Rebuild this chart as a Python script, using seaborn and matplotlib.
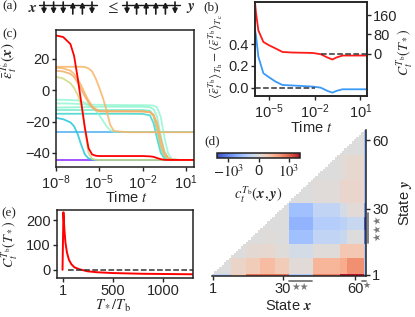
import numpy as np
import matplotlib
matplotlib.use("Agg")
import matplotlib.pyplot as plt
from matplotlib.colors import SymLogNorm
from matplotlib.ticker import NullLocator
import seaborn as sns

# ---------------- data ----------------
# (c) energy trajectories, log10(time) grid
logt_c = [-8, -7.5, -7, -6.75, -6.5, -6.25, -6, -5.75, -5.5, -5.25, -5, -4.75, -4.5,
          -4.25, -4, -3, -2, -1.5, -1.25, -1, -0.75, -0.5, -0.25, 0, 0.5, 1.6]
eps_purple = [-44.6] * 26
eps_lblue = [-26.6] * 26
eps_cyan = [-17.6, -18.5, -20.5, -23, -28, -35, -41, -43.5, -44.3, -44.5, -44.5, -44.5, -44.5,
            -44.5, -44.5, -44.5, -44.5, -44.5, -44.5, -44.5, -44.5, -44.5, -44.5, -44.5, -44.5, -44.5]
eps_teal = [-15, -15, -15, -15, -15, -15, -15, -15, -15, -15, -15, -15, -15,
            -15, -15, -15, -15.1, -16, -21, -31, -40, -43.5, -44.3, -44.5, -44.5, -44.5]
eps_aqua1 = [-12.6, -12.6, -12.6, -12.6, -12.6, -12.6, -12.6, -12.6, -12.6, -12.6, -12.6, -12.6, -12.6,
             -12.6, -12.6, -12.6, -12.6, -13, -16, -26, -37, -42.5, -44.2, -44.5, -44.5, -44.5]
eps_aqua2 = [-11, -11, -10.9, -10.9, -10.8, -10.8, -10.7, -10.7, -10.6, -10.6, -10.5, -10.5, -10.5,
             -10.5, -10.5, -10.5, -10.5, -10.8, -12, -17, -29, -39, -43.3, -44.3, -44.5, -44.5]
eps_aqua3 = [-8.4, -8.4, -8.5, -8.6, -8.7, -8.8, -9, -9.1, -9.2, -9.2, -9.3, -9.3, -9.4,
             -9.4, -9.4, -9.5, -9.5, -9.6, -9.8, -11, -17, -30, -40, -43.8, -44.5, -44.5]
eps_aqua4 = [-6, -6.1, -6.2, -6.4, -6.5, -7, -8, -9.5, -11, -13, -16, -19.5, -23,
             -25.5, -26.5, -26.7, -26.7, -26.7, -26.7, -26.7, -26.7, -26.7, -26.7, -26.7, -26.7, -26.7]
eps_khaki = [8.6, 7.5, 4.5, 1.5, -3, -9, -25, -40, -43.8, -44.4, -44.5, -44.5, -44.5,
             -44.5, -44.5, -44.5, -44.5, -44.5, -44.5, -44.5, -44.5, -44.5, -44.5, -44.5, -44.5, -44.5]
eps_orange1 = [15, 15, 15, 15, 15, 15, 14.8, 14, 12, 7.5, 1.5, -5, -13,
               -22, -26, -26.8, -26.8, -26.8, -26.8, -26.8, -26.8, -26.8, -26.8, -26.8, -26.8, -26.8]
eps_orange2 = [14.5, 14, 12.5, 10.5, 7, 3, -2, -6.5, -10, -12, -13, -13.3, -13.3,
               -13.3, -13.3, -13.3, -13.4, -14, -16.5, -24, -35, -41.5, -43.5, -44.2, -44.5, -44.5]
eps_orange3 = [12.5, 12, 10.5, 8.5, 5, 0.5, -4, -8, -11, -12.8, -13.5, -13.6, -13.6,
               -13.6, -13.6, -13.6, -13.6, -14, -15.5, -21, -31, -39.5, -43, -44.2, -44.5, -44.5]
eps_red = [35, 34, 29.5, 22, 8, -8, -24, -37, -41, -41.8, -42, -42, -42,
           -42, -42, -42, -42, -42.2, -42.5, -43.3, -44, -44.4, -44.5, -44.5, -44.5, -44.5]

# (b) gap between hot and cold averages, and specific heat
logt_b = [-5.92, -5.86, -5.7, -5.37, -5.0, -4.56, -4.12, -3.47, -2.14, -1.6, -1.16, -0.83, -0.57, -0.17, 0.5, 1.44]
gap_blue = [0.53, 0.486, 0.286, 0.133, 0.096, 0.055, 0.025, 0.02, 0.01, 0.0, -0.03, -0.046, -0.03, -0.015, -0.015, -0.015]
heat_red = [215, 174, 97, 48.5, 34.7, 21, 6.7, 4.2, 2.5, -2.9, -16.7, -25, -16.7, -8.4, -8.4, -8.4]

# (e) specific heat vs T*/Tb
tstar = [1, 10, 20, 30, 45, 65, 90, 120, 170, 250, 350, 500, 800, 1300]
heat_e = [0, 232, 160, 110, 70, 40, 22, 10, 2, -6, -10, -13, -16, -18]

# (d) pair correlations, block structure over 64 states
block_edges = [0, 1, 8, 14, 20, 26, 32, 42, 53, 56, 63, 64]
block_vals = [
    [-60, -60, 50, 700, 700, 700, -80, 500, 5000, 5000, -500],
    [0, 0, 30, 50, 80, 50, 10, 90, 110, 300, -80],
    [0, 0, 0, 15, 20, 5, -20, 5, 60, 60, -80],
    [0, 0, 0, 0, 5, 0, -100, -50, -40, 0, -1500],
    [0, 0, 0, 0, 0, 0, -180, -70, -60, -40, -5000],
    [0, 0, 0, 0, 0, 0, -100, -50, -20, 10, -600],
    [0, 0, 0, 0, 0, 0, 0, 8, 25, 25, -100],
    [0, 0, 0, 0, 0, 0, 0, 0, 10, 20, -100],
    [0, 0, 0, 0, 0, 0, 0, 0, 0, 0, -100],
    [0, 0, 0, 0, 0, 0, 0, 0, 0, 0, -120],
    [0, 0, 0, 0, 0, 0, 0, 0, 0, 0, -120],
]

# (a) spin configurations (+1 up, -1 down)
spins_x = [-1, -1, -1, 1, 1, -1]
spins_y = [-1, 1, 1, 1, 1, -1]

# ---------------- style ----------------
sns.set_theme(style="ticks")
plt.rcParams["font.family"] = ["Liberation Sans", "DejaVu Sans"]
plt.rcParams["mathtext.fontset"] = "stix"
plt.rcParams.update({
    "font.size": 10.5, "axes.labelsize": 10.5, "xtick.labelsize": 10.5, "ytick.labelsize": 10.5,
    "axes.linewidth": 1.1, "axes.edgecolor": "#222222",
    "xtick.major.size": 3, "ytick.major.size": 3, "xtick.major.width": 1, "ytick.major.width": 1,
    "xtick.major.pad": 1.5, "ytick.major.pad": 1.5, "axes.labelpad": 2,
})

W, H = 415, 317
fig = plt.figure(figsize=(W / 100, H / 100), dpi=100)


def rect(l, t, r, b):
    return [l / W, 1 - b / H, (r - l) / W, (b - t) / H]


ax_a = fig.add_axes(rect(0, 0, 200, 16))
ax_c = fig.add_axes(rect(56, 30, 194, 167))
ax_e = fig.add_axes(rect(57, 210, 193, 278))
ax_d = fig.add_axes(rect(212, 130, 366, 276))
cax = fig.add_axes(rect(217, 153, 300, 158))
ax_b = fig.add_axes(rect(255, 2, 367, 96))

serif = ["Liberation Serif", "DejaVu Serif"]
mathsize = 10.5

# ---------------- (c) ----------------
t_c = 10 ** np.array(logt_c)
lines_c = [
    (eps_purple, "#9a45ff", 1.0),
    (eps_lblue, "#4aaef2", 0.85),
    (eps_cyan, "#22c6dc", 0.85),
    (eps_teal, "#2fd3c6", 0.8),
    (eps_aqua1, "#5ee8c4", 0.75),
    (eps_aqua2, "#7cf2c8", 0.75),
    (eps_aqua3, "#86f5cc", 0.75),
    (eps_aqua4, "#86f5cc", 0.75),
    (eps_khaki, "#cfd97e", 0.85),
    (eps_orange1, "#f7b466", 0.85),
    (eps_orange2, "#f7b466", 0.85),
    (eps_orange3, "#f3ad68", 0.85),
    (eps_red, "#ff0000", 1.0),
]
for vals, col, a in lines_c:
    sns.lineplot(x=t_c, y=vals, ax=ax_c, color=col, lw=1.3, alpha=a)
ax_c.set_xscale("log")
ax_c.set_xlim(1e-8, 10 ** 1.55)
ax_c.set_ylim(-49, 38.5)
ax_c.set_xticks([1e-8, 1e-5, 1e-2, 1e1])
ax_c.minorticks_off()
ax_c.set_yticks([20, 0, -20, -40])
ax_c.set_xlabel("Time $t$")
ax_c.xaxis.set_label_coords(0.51, -0.17)
ax_c.set_ylabel(r"$\bar{\varepsilon}_t^{T_\mathrm{b}}(\mathbfit{x})$", fontsize=mathsize + 0.5)
ax_c.yaxis.set_label_coords(-0.265, 0.78)

# ---------------- (b) ----------------
t_b = 10 ** np.array(logt_b)
sns.lineplot(x=t_b, y=gap_blue, ax=ax_b, color="#3a9af7", lw=1.3)
ax_b.plot([10 ** -5.92, 1e-2], [0, 0], ls="--", color="#333333", lw=1.1)
ax_b.set_xscale("log")
ax_b.set_ylim(-0.077, 0.79)
ax_b.set_yticks([0.0, 0.2, 0.4])
ax_b.set_yticklabels(["0.0", "0.2", "0.4"])
ax_b.set_xlabel("Time $t$")
ax_b.xaxis.set_label_coords(0.5, -0.26)
ax_b.set_ylabel(r"$\langle\bar{\varepsilon}_t^{T_\mathrm{b}}\rangle_{T_\mathrm{h}}-\langle\bar{\varepsilon}_t^{T_\mathrm{b}}\rangle_{T_\mathrm{c}}$",
                fontsize=9.5)
ax_b.yaxis.set_label_coords(-0.265, 0.42)
ax_b2 = ax_b.twinx()
sns.lineplot(x=t_b, y=heat_red, ax=ax_b2, color="#ff1a1a", lw=1.3)
ax_b2.plot([10 ** -1.57, 10 ** 1.44], [0, 0], ls="--", color="#333333", lw=1.1)
ax_b2.set_ylim(-178, 216)
ax_b2.set_yticks([0, 80, 160])
ax_b2.set_ylabel(r"$C_t^{T_\mathrm{b}}(T_*)$", fontsize=10)
ax_b2.yaxis.set_label_coords(1.26, 0.46)
ax_b.set_xlim(10 ** -5.92, 10 ** 1.44)
ax_b.set_xticks([1e-5, 1e-2, 1e1])
ax_b.xaxis.set_minor_locator(NullLocator())
ax_b2.yaxis.set_minor_locator(NullLocator())

# ---------------- (e) ----------------
sns.lineplot(x=tstar, y=heat_e, ax=ax_e, color="#ff0000", lw=1.4)
ax_e.plot([60, 1300], [0, 0], ls="--", color="#333333", lw=1.1)
ax_e.set_xlim(-54, 1300)
ax_e.set_ylim(-33, 241)
ax_e.set_xticks([1, 500, 1000])
ax_e.set_yticks([0, 100, 200])
ax_e.set_xlabel(r"$T_*/T_\mathrm{b}$", fontsize=mathsize)
ax_e.xaxis.set_label_coords(0.41, -0.29)
ax_e.set_ylabel(r"$C_t^{T_\mathrm{b}}(T_*)$", fontsize=10)
ax_e.yaxis.set_label_coords(-0.265, 0.5)

# ---------------- (d) ----------------
N = 64
idx = np.searchsorted(block_edges, np.arange(N), side="right") - 1
mat = np.array(block_vals, dtype=float)[idx][:, idx]
mask = np.arange(N)[:, None] > np.arange(N)[None, :]
norm = SymLogNorm(linthresh=100, linscale=1, vmin=-6000, vmax=6000, base=10)
sns.heatmap(mat, mask=mask, cmap="coolwarm", norm=norm, ax=ax_d, cbar_ax=cax,
            cbar_kws={"orientation": "horizontal"}, xticklabels=False, yticklabels=False)
ax_d.set_facecolor("none")
ax_d.invert_yaxis()
ax_d.set_xlim(0, N)
ax_d.set_ylim(0, N)
for s in ["bottom", "right"]:
    ax_d.spines[s].set_visible(True)
    ax_d.spines[s].set_linewidth(1.1)
    ax_d.spines[s].set_color("#222222")
ax_d.yaxis.tick_right()
ax_d.yaxis.set_label_position("right")
ax_d.set_xticks([0.5, 29.5, 59.5])
ax_d.set_xticklabels(["1", "30", "60"], rotation=0)
ax_d.set_yticks([0.5, 29.5, 59.5])
ax_d.set_yticklabels(["1", "30", "60"], rotation=0)
ax_d.tick_params(length=3, width=1, pad=1.5)
ax_d.set_xlabel(r"State $\mathbfit{x}$")
ax_d.xaxis.set_label_coords(0.5, -0.16)
ax_d.set_ylabel(r"State $\mathbfit{y}$", rotation=90)
ax_d.yaxis.set_label_coords(1.2, 0.5)

cb = ax_d.collections[0].colorbar
cb.set_ticks([-1000, 0, 1000])
cb.set_ticklabels([r"$-10^3$", "0", r"$10^3$"])
cb.outline.set_linewidth(1.1)
cb.outline.set_edgecolor("#222222")
cax.tick_params(length=3, width=1, pad=1)
cax.minorticks_off()
cb.set_label(r"$c_t^{T_\mathrm{b}}(\mathbfit{x},\mathbfit{y})$", fontsize=mathsize)
cax.xaxis.set_label_coords(0.5, -5.2)

star_col = "#777777"
ax_d.plot([64.9, 64.9], [14.5, 27.6], color=star_col, lw=1.3, clip_on=False)
ax_d.text(68.8, 21, "★★★", rotation=90, ha="center", va="center", color=star_col,
          fontsize=7, family="DejaVu Sans")
ax_d.plot([32, 41.5], [-2.3, -2.3], color=star_col, lw=1.3, clip_on=False)
ax_d.text(36.8, -4.6, "★★", ha="center", va="center", color=star_col, fontsize=7, family="DejaVu Sans")
ax_d.plot([62.4, 64], [-2.3, -2.3], color=star_col, lw=1.3, clip_on=False)
ax_d.text(64.3, -4.0, "★", ha="center", va="center", color=star_col, fontsize=6.5, family="DejaVu Sans")

# ---------------- (a) ----------------
ax_a.set_xlim(0, 200)
ax_a.set_ylim(16, 0)
ax_a.axis("off")
ax_a.text(33, 8, r"$\mathbfit{x}$", fontsize=11, ha="center", va="center")
ax_a.text(112, 8, r"$\leq$", fontsize=11, ha="center", va="center")
ax_a.text(191, 8, r"$\mathbfit{y}$", fontsize=11, ha="center", va="center")
for x0, spins in [(44, spins_x), (127, spins_y)]:
    xs = [x0 + 9.6 * i for i in range(len(spins))]
    ax_a.plot([xs[0] - 5, xs[-1] + 5], [5, 5], color="k", lw=1)
    for xp, s in zip(xs, spins):
        y0, y1 = (14, 2) if s > 0 else (2, 14)
        ax_a.annotate("", xy=(xp, y1), xytext=(xp, y0),
                      arrowprops=dict(arrowstyle="-|>", color="k", lw=1.2, mutation_scale=7,
                                      shrinkA=0, shrinkB=0))

# panel labels
for lab, px, py in [("(a)", 2, 6), ("(b)", 203, 7), ("(c)", 2, 34), ("(d)", 204, 141), ("(e)", 1, 213)]:
    fig.text(px / W, 1 - py / H, lab, family=serif, fontsize=9.5, ha="left", va="center")

fig.savefig("out.png", dpi=100)
